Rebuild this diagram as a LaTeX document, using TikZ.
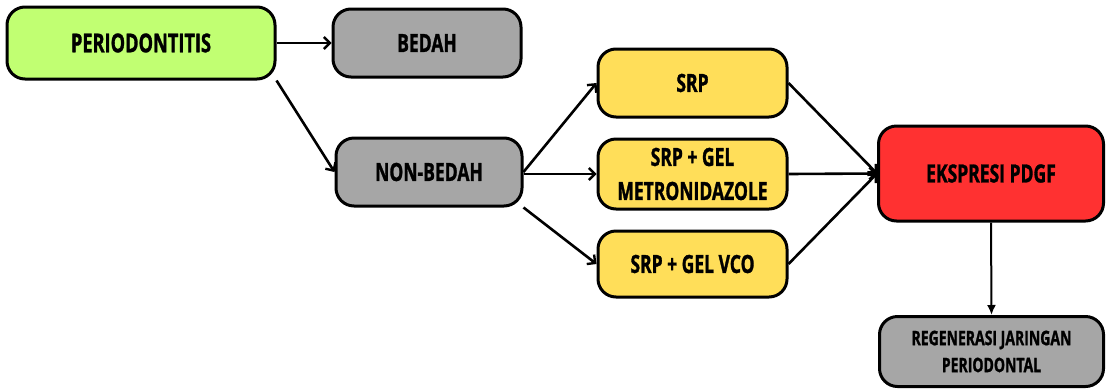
\documentclass[tikz,border=0pt]{standalone}
\usepackage{fontspec}
\setmainfont{Open Sans}[FakeStretch=0.7, FakeBold=1.2]
\usetikzlibrary{arrows.meta}

\definecolor{boxgreen}{HTML}{C1FF72}
\definecolor{boxgray}{HTML}{A6A6A6}
\definecolor{boxyellow}{HTML}{FFDE59}
\definecolor{boxred}{HTML}{FF3131}

\tikzset{
  box/.style={draw=black, line width=3pt, rounded corners=18pt, inner sep=0pt,
    align=center, font=\bfseries\fontsize{25}{34}\selectfont, text=black},
  link/.style={line width=2.6pt, -{Straight Barb[length=6pt,width=12pt,line width=2.4pt]}},
  down/.style={line width=2pt, -{Latex[length=10pt,width=9pt]}}
}

\begin{document}
\begin{tikzpicture}[x=1pt, y={(0pt,-1pt)}]
\useasboundingbox (0,0) rectangle (1107,389);

% boxes
\node[box, fill=boxgreen, minimum width=268pt, minimum height=72pt,
      font=\bfseries\fontsize{26}{34}\selectfont] (perio) at (141,43) {PERIODONTITIS};
\node[box, fill=boxgray, minimum width=188pt, minimum height=68pt] (bedah) at (427,43) {BEDAH};
\node[box, fill=boxgray, minimum width=186pt, minimum height=68pt] (nonbedah) at (429,172) {NON-BEDAH};
\node[box, fill=boxyellow, minimum width=189pt, minimum height=68pt] (srp) at (692.5,83) {SRP};
\node[box, fill=boxyellow, minimum width=189pt, minimum height=70pt] (metro) at (692.5,174) {SRP + GEL\\METRONIDAZOLE};
\node[box, fill=boxyellow, minimum width=189pt, minimum height=66pt] (vco) at (692.5,264) {SRP + GEL VCO};
\node[box, fill=boxred, minimum width=225pt, minimum height=95pt] (pdgf) at (991,173.5) {EKSPRESI PDGF};
\node[box, fill=boxgray, minimum width=224pt, minimum height=70pt,
      font=\bfseries\fontsize{20}{27}\selectfont] (regen) at (991.5,351.5) {REGENERASI JARINGAN\\PERIODONTAL};

% connectors
\draw[link] (perio.east) -- (bedah.west);
\draw[link] (perio.south east) -- (nonbedah.west);
\draw[link] (nonbedah.east) -- (srp.west);
\draw[link] (nonbedah.east |- metro.west) -- (metro.west);
\draw[link] (nonbedah.south east) -- (vco.west);
\draw[link] (srp.east) -- (pdgf.west);
\draw[link] (metro.east) -- (pdgf.west);
\draw[link] (vco.east) -- (pdgf.west);
\draw[down] (pdgf.south) -- (regen.north);
\end{tikzpicture}
\end{document}
